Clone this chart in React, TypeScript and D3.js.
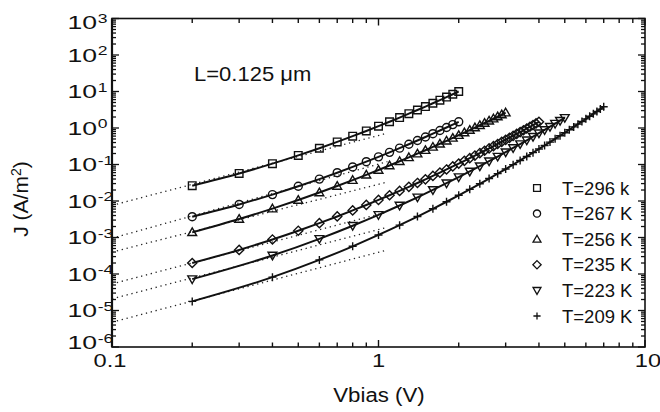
import React from 'react';
import * as d3 from 'd3';

const W = 660;
const H = 412;
const PLOT = { left: 112, right: 645, top: 18.5, bottom: 347 };
const FONT = 'Liberation Sans, Arial, Helvetica, sans-serif';

// bias voltages (V)
const vbiasFine = [0.2, 0.3, 0.4, 0.5, 0.6, 0.7, 0.8, 0.9, 1.0, 1.1, 1.2, 1.3, 1.4, 1.5, 1.6, 1.7, 1.8, 1.9, 2.0,
  2.1, 2.2, 2.3, 2.4, 2.5, 2.6, 2.7, 2.8, 2.9, 3.0, 3.1, 3.2, 3.3, 3.4, 3.5, 3.6, 3.7, 3.8, 3.9, 4.0];
const vbiasCoarse = [0.2, 0.4, 0.6, 0.8, 1.0, 1.2, 1.4, 1.6, 1.8, 2.0, 2.2, 2.4, 2.6, 2.8, 3.0, 3.2, 3.4, 3.6,
  3.8, 4.0, 4.2, 4.4, 4.6, 4.8, 5.0, 5.2, 5.4, 5.6, 5.8, 6.0, 6.2, 6.4, 6.6, 6.8, 7.0];

// current density J (A/m^2)
const j296 = [0.0263, 0.0568, 0.1055, 0.1776, 0.279, 0.416, 0.597, 0.829, 1.122, 1.485, 1.93, 2.465, 3.108,
  3.87, 4.764, 5.803, 7.016, 8.41, 10.0];
const j267 = [0.003718, 0.00805, 0.01498, 0.02529, 0.03986, 0.05965, 0.0858, 0.1195, 0.1622, 0.2152, 0.2804,
  0.359, 0.4537, 0.5662, 0.6984, 0.853, 1.033, 1.241, 1.478];
const j256 = [0.001382, 0.0032, 0.006177, 0.01066, 0.01704, 0.02574, 0.03725, 0.05205, 0.07079, 0.09402,
  0.1225, 0.1567, 0.1977, 0.2462, 0.3031, 0.3694, 0.4461, 0.5342, 0.6345, 0.7487, 0.8785, 1.024, 1.188,
  1.37, 1.575, 1.802, 2.051, 2.327, 2.632];
const j235 = [0.0002, 0.0004564, 0.0008827, 0.001533, 0.002474, 0.003773, 0.005516, 0.007794, 0.01072,
  0.01438, 0.01893, 0.02447, 0.03119, 0.03924, 0.04876, 0.05998, 0.0731, 0.08835, 0.1059, 0.126, 0.149,
  0.1752, 0.2049, 0.2382, 0.2759, 0.318, 0.3649, 0.417, 0.4748, 0.5389, 0.6094, 0.6873, 0.7731, 0.8667,
  0.9692, 1.081, 1.203, 1.336, 1.48];
const j223 = [7.241e-5, 3.218e-4, 9.204e-4, 0.002101, 0.004169, 0.007518, 0.01264, 0.02013, 0.03071, 0.04521,
  0.06467, 0.09022, 0.1233, 0.1653, 0.2179, 0.2833, 0.3637, 0.4613, 0.5792, 0.7206, 0.8877, 1.087, 1.319,
  1.59, 1.906];
const j209 = [1.777e-5, 8.19e-5, 2.432e-4, 5.741e-4, 0.001175, 0.002178, 0.003753, 0.006118, 0.009537,
  0.01432, 0.02088, 0.02965, 0.04121, 0.05614, 0.07511, 0.09908, 0.129, 0.1659, 0.211, 0.2658, 0.3313,
  0.4104, 0.5039, 0.6138, 0.7438, 0.8951, 1.071, 1.275, 1.51, 1.781, 2.09, 2.443, 2.841, 3.297, 3.809];

// dotted low-bias fits: J at the two ends of the dotted segment
const fitV = [0.1, 1.08];
const fit296 = [7.59e-3, 0.724];
const fit267 = [9.55e-4, 0.12];
const fit256 = [3.98e-4, 0.0331];
const fit235 = [5.37e-5, 0.00501];
const fit223 = [2.09e-5, 0.00191];
const fit209 = [4.79e-6, 4.57e-4];

const legendLabels = ['T=296 k', 'T=267 K', 'T=256 K', 'T=235 K', 'T=223 K', 'T=209 K'];
const yExponents = [3, 2, 1, 0, -1, -2, -3, -4, -5, -6];
const xTickLabels = [0.1, 1, 10];
const annotation = 'L=0.125 \u03bcm';

type Shape = 'square' | 'circle' | 'triangle' | 'diamond' | 'triangleDown' | 'plus';

const series: { shape: Shape; v: number[]; j: number[]; fit: number[] }[] = [
  { shape: 'square', v: vbiasFine.slice(0, j296.length), j: j296, fit: fit296 },
  { shape: 'circle', v: vbiasFine.slice(0, j267.length), j: j267, fit: fit267 },
  { shape: 'triangle', v: vbiasFine.slice(0, j256.length), j: j256, fit: fit256 },
  { shape: 'diamond', v: vbiasFine.slice(0, j235.length), j: j235, fit: fit235 },
  { shape: 'triangleDown', v: vbiasCoarse.slice(0, j223.length), j: j223, fit: fit223 },
  { shape: 'plus', v: vbiasCoarse.slice(0, j209.length), j: j209, fit: fit209 },
];

function markerPath(shape: Shape, s: number): string {
  switch (shape) {
    case 'square':
      return `M${-s * 0.95},${-s * 0.95}H${s * 0.95}V${s * 0.95}H${-s * 0.95}Z`;
    case 'circle':
      return `M${s},0A${s},${s} 0 1,1 ${-s},0A${s},${s} 0 1,1 ${s},0Z`;
    case 'triangle':
      return `M0,${-s * 1.1}L${s * 1.1},${s * 0.8}L${-s * 1.1},${s * 0.8}Z`;
    case 'diamond':
      return `M0,${-s * 1.15}L${s * 1.15},0L0,${s * 1.15}L${-s * 1.15},0Z`;
    case 'triangleDown':
      return `M0,${s * 1.1}L${s * 1.1},${-s * 0.8}L${-s * 1.1},${-s * 0.8}Z`;
    case 'plus':
      return `M${-s},0H${s}M0,${-s}V${s}`;
  }
}

export default function App() {
  const x = d3.scaleLog().domain([0.1, 10]).range([PLOT.left, PLOT.right]);
  const y = d3.scaleLog().domain([1e-6, 1e3]).range([PLOT.bottom, PLOT.top]);

  const isMajor = (t: number) => Math.abs(Math.log10(t) - Math.round(Math.log10(t))) < 1e-9;
  const xTicks = x.ticks();
  const yTicks = y.ticks();

  const line = d3
    .line<[number, number]>()
    .x((d) => x(d[0]))
    .y((d) => y(d[1]))
    .curve(d3.curveMonotoneX);
  const straight = d3
    .line<[number, number]>()
    .x((d) => x(d[0]))
    .y((d) => y(d[1]));

  const ink = '#111';

  return (
    <svg
      width={W}
      height={H}
      viewBox={`0 0 ${W} ${H}`}
      style={{ position: 'absolute', left: 0, top: 0, background: '#fff' }}
      fontFamily={FONT}
    >
      <rect x={0} y={0} width={W} height={H} fill="#fff" />

      {/* dotted fits */}
      {series.map((s, i) => (
        <path
          key={`fit${i}`}
          d={straight(fitV.map((v, k) => [v, s.fit[k]] as [number, number])) || ''}
          fill="none"
          stroke="#222"
          strokeWidth={1.3}
          strokeDasharray="1.3,3.7"
        />
      ))}

      {/* solid curves */}
      {series.map((s, i) => (
        <path
          key={`line${i}`}
          d={line(s.v.map((v, k) => [v, s.j[k]] as [number, number])) || ''}
          fill="none"
          stroke={ink}
          strokeWidth={2}
        />
      ))}

      {/* markers */}
      {series.map((s, i) => (
        <g key={`mk${i}`}>
          {s.v.map((v, k) => (
            <path
              key={k}
              d={markerPath(s.shape, 4)}
              transform={`translate(${x(v)},${y(s.j[k])})`}
              fill="none"
              stroke={ink}
              strokeWidth={1.4}
            />
          ))}
        </g>
      ))}

      {/* frame */}
      <rect
        x={PLOT.left}
        y={PLOT.top}
        width={PLOT.right - PLOT.left}
        height={PLOT.bottom - PLOT.top}
        fill="none"
        stroke={ink}
        strokeWidth={1.6}
      />
      <line x1={PLOT.left} x2={PLOT.left} y1={PLOT.top} y2={PLOT.bottom} stroke={ink} strokeWidth={2.2} />

      {/* x ticks (bottom & top, inward) */}
      {xTicks.map((t, i) => {
        const len = isMajor(t) ? 7 : 4.5;
        const xx = x(t);
        return (
          <g key={`xt${i}`} stroke={ink} strokeWidth={1.4}>
            <line x1={xx} x2={xx} y1={PLOT.bottom} y2={PLOT.bottom - len} />
            <line x1={xx} x2={xx} y1={PLOT.top} y2={PLOT.top + len} />
          </g>
        );
      })}

      {/* y ticks (left & right, inward) */}
      {yTicks.map((t, i) => {
        const len = isMajor(t) ? 7 : 4;
        const yy = y(t);
        return (
          <g key={`yt${i}`} stroke={ink} strokeWidth={1.3}>
            <line x1={PLOT.left} x2={PLOT.left + len} y1={yy} y2={yy} />
            <line x1={PLOT.right} x2={PLOT.right - len} y1={yy} y2={yy} />
          </g>
        );
      })}

      {/* y tick labels */}
      {yExponents.map((e) => {
        const ty = Math.min(Math.max(y(Math.pow(10, e)), 22.5), 342.5);
        return (
          <g key={`yl${e}`} transform={`translate(97,${ty + 6.8})`} fill={ink}>
            <text textAnchor="end" fontSize={19} transform="scale(1.4,1)">
              10
            </text>
            <text x={0.5} y={-6.8} fontSize={13.5} transform="scale(1.3,1)">
              {e < 0 ? `-${Math.abs(e)}` : `${e}`}
            </text>
          </g>
        );
      })}

      {/* x tick labels */}
      {xTickLabels.map((t) => (
        <g key={`xl${t}`} transform={`translate(${x(t) - (t === 0.1 ? 2 : t === 10 ? -3 : 0)},367)`}>
          <text textAnchor="middle" fontSize={18.5} fill={ink} transform="scale(1.28,1)">
            {String(t)}
          </text>
        </g>
      ))}

      {/* axis titles */}
      <g transform="translate(379,402)">
        <text textAnchor="middle" fontSize={21} fill={ink} transform="scale(1.06,1)">
          Vbias (V)
        </text>
      </g>
      <text
        transform="translate(28,199) rotate(-90)"
        textAnchor="middle"
        fontSize={21}
        fill={ink}
      >
        J (A/m<tspan dy={-7} fontSize={14}>2</tspan>
        <tspan dy={7}>)</tspan>
      </text>

      {/* annotation */}
      <g transform="translate(194,81)">
        <text fontSize={20} fill={ink} transform="scale(1.1,1)">
          {annotation}
        </text>
      </g>

      {/* legend */}
      {legendLabels.map((lab, i) => {
        const cy = 188 + i * 25.6;
        return (
          <g key={`lg${i}`}>
            <path
              d={markerPath(series[i].shape, 3.6)}
              transform={`translate(537,${cy})`}
              fill="none"
              stroke={ink}
              strokeWidth={1.3}
            />
            <text x={562} y={cy + 6.6} fontSize={18.5} fill={ink}>
              {lab}
            </text>
          </g>
        );
      })}
    </svg>
  );
}
